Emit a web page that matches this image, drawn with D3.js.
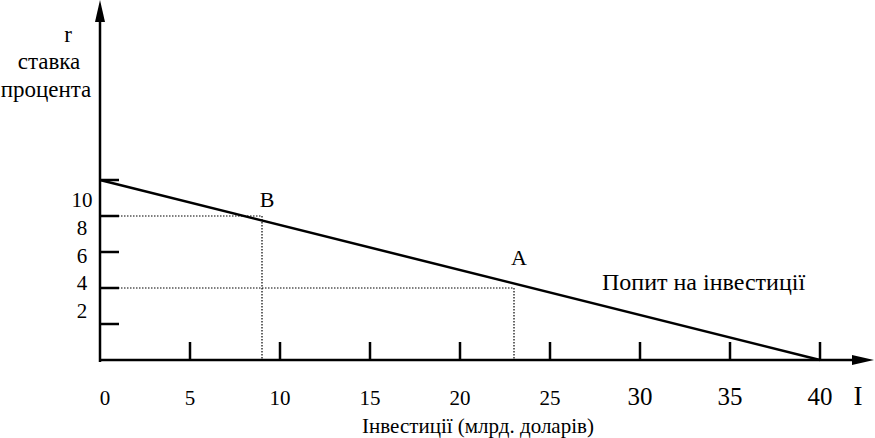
<!DOCTYPE html>
<html>
<head>
<meta charset="utf-8">
<script src="https://cdn.jsdelivr.net/npm/d3@7"></script>
<style>
	body { margin: 0; background: #fff; }
	svg text { font-family: "Liberation Serif", "DejaVu Serif", serif; fill: #000; }
</style>
</head>
<body>
<svg id="chart" width="875" height="438" font-family="Liberation Serif, DejaVu Serif, serif"></svg>
<script>

// values
var xTicks = [0, 5, 10, 15, 20, 25, 30, 35, 40];
var yTicks = [2, 4, 6, 8, 10];
var demand = [{ i: 0, r: 10 }, { i: 40, r: 0 }];
var points = [{ name: "B", i: 9, r: 8 }, { name: "A", i: 23, r: 4 }];
var yTitle = ["r", "ставка", "процента"];
var xTitle = "Інвестиції (млрд. доларів)";
var curveLabel = "Попит на інвестиції";


var svg = d3.select("#chart");

var x = d3.scaleLinear().domain([0, 40]).range([100, 820]);
var y = d3.scaleLinear().domain([0, 10]).range([360, 180]);

// tick labels on the y side sit a bit lower and tighter than the ticks
var yLab = d3.scaleLinear().domain([2, 10]).range([318, 207]);

// axes with arrows
svg.append("line")
	.attr("x1", x(0)).attr("y1", 362)
	.attr("x2", x(0)).attr("y2", 14)
	.attr("stroke", "#000").attr("stroke-width", 2.5);
svg.append("path")
	.attr("d", "M" + x(0) + ",0 L" + (x(0) - 5) + ",22 L" + (x(0) + 5) + ",22 Z")
	.attr("fill", "#000");

svg.append("line")
	.attr("x1", x(0) - 1).attr("y1", y(0))
	.attr("x2", 858).attr("y2", y(0))
	.attr("stroke", "#000").attr("stroke-width", 2.5);
svg.append("path")
	.attr("d", "M874," + y(0) + " L852," + (y(0) - 5) + " L852," + (y(0) + 5) + " Z")
	.attr("fill", "#000");

// ticks
svg.selectAll(".xtick")
	.data(xTicks.filter(function(d) { return d > 0; }))
	.enter().append("line")
	.attr("class", "xtick")
	.attr("x1", function(d) { return x(d); })
	.attr("x2", function(d) { return x(d); })
	.attr("y1", y(0))
	.attr("y2", y(0) - 18)
	.attr("stroke", "#000").attr("stroke-width", 2.5);

svg.selectAll(".ytick")
	.data(yTicks)
	.enter().append("line")
	.attr("class", "ytick")
	.attr("x1", x(0))
	.attr("x2", x(0) + 19)
	.attr("y1", function(d) { return y(d); })
	.attr("y2", function(d) { return y(d); })
	.attr("stroke", "#000").attr("stroke-width", 2.5);

// tick labels
svg.selectAll(".xlab")
	.data(xTicks)
	.enter().append("text")
	.attr("class", "xlab")
	.attr("x", function(d) { return d == 0 ? x(d) + 5 : x(d); })
	.attr("y", 405)
	.attr("text-anchor", "middle")
	.style("font-size", function(d) { return d >= 30 ? "25px" : "21px"; })
	.text(function(d) { return d; });

svg.append("text")
	.attr("x", 858).attr("y", 405)
	.attr("text-anchor", "middle")
	.style("font-size", "27px")
	.text("I");

svg.selectAll(".ylab")
	.data(yTicks)
	.enter().append("text")
	.attr("class", "ylab")
	.attr("x", 82)
	.attr("y", function(d) { return yLab(d); })
	.attr("text-anchor", "middle")
	.style("font-size", "21px")
	.text(function(d) { return d; });

// axis titles
svg.selectAll(".ytitle")
	.data(yTitle)
	.enter().append("text")
	.attr("class", "ytitle")
	.attr("x", function(d, k) { return k == 0 ? 68 : (k == 1 ? 49 : 46); })
	.attr("y", function(d, k) { return [42, 69, 97][k]; })
	.attr("text-anchor", "middle")
	.style("font-size", "23px")
	.text(function(d) { return d; });

svg.append("text")
	.attr("x", 478).attr("y", 433)
	.attr("text-anchor", "middle")
	.style("font-size", "21px")
	.text(xTitle);

// dotted guides
svg.selectAll(".hguide")
	.data(points)
	.enter().append("line")
	.attr("class", "hguide")
	.attr("x1", x(0)).attr("x2", function(d) { return x(d.i); })
	.attr("y1", function(d) { return y(d.r); })
	.attr("y2", function(d) { return y(d.r); })
	.attr("stroke", "#000").attr("stroke-width", 1.2)
	.attr("stroke-dasharray", "1.5,1.5");

svg.selectAll(".vguide")
	.data(points)
	.enter().append("line")
	.attr("class", "vguide")
	.attr("x1", function(d) { return x(d.i); })
	.attr("x2", function(d) { return x(d.i); })
	.attr("y1", function(d) { return y(d.r); })
	.attr("y2", y(0))
	.attr("stroke", "#000").attr("stroke-width", 1.2)
	.attr("stroke-dasharray", "1.5,1.5");

// demand line
var line = d3.line()
	.x(function(d) { return x(d.i); })
	.y(function(d) { return y(d.r); });

svg.append("path")
	.datum(demand)
	.attr("d", line)
	.attr("fill", "none")
	.attr("stroke", "#000").attr("stroke-width", 2.5);

// point names
svg.selectAll(".pname")
	.data(points)
	.enter().append("text")
	.attr("class", "pname")
	.attr("x", function(d) { return x(d.i) + 5; })
	.attr("y", function(d) { return y(d.r) - 9 - (d.name == "A" ? 14 : 0); })
	.attr("text-anchor", "middle")
	.style("font-size", "22px")
	.text(function(d) { return d.name; });

svg.append("text")
	.attr("x", 602).attr("y", 290)
	.style("font-size", "24px")
	.text(curveLabel);

</script>
</body>
</html>
